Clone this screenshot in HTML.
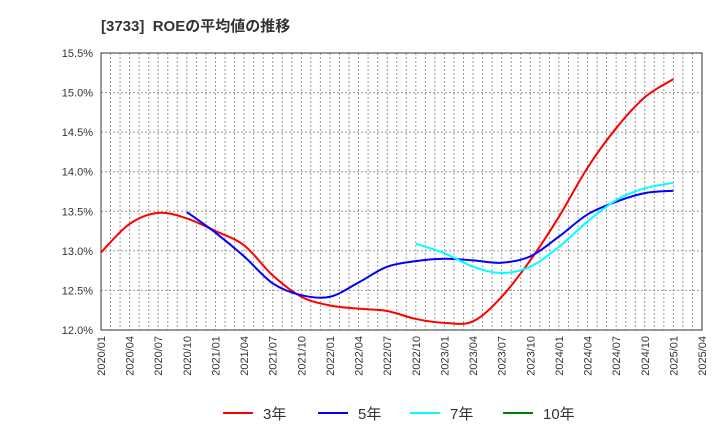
<!DOCTYPE html>
<html><head><meta charset="utf-8"><style>
body{margin:0;background:#fff;}
svg{font-family:"Liberation Sans","Noto Sans CJK JP",sans-serif;}
</style></head><body>
<svg width="720" height="440" id="c">
<text x="101" y="31" font-size="15" font-weight="bold" fill="#333">[3733]&#160; ROEの平均値の推移</text>
<g id="grid"></g><g id="axes"></g><g id="series"></g><g id="legend"></g>
</svg>
<script>
const xLabels=["2020/01","2020/04","2020/07","2020/10","2021/01","2021/04","2021/07","2021/10","2022/01","2022/04","2022/07","2022/10","2023/01","2023/04","2023/07","2023/10","2024/01","2024/04","2024/07","2024/10","2025/01","2025/04"];
const yTicks=[12.0,12.5,13.0,13.5,14.0,14.5,15.0,15.5];
const s3Start=0;
const s3=[12.98,13.34,13.48,13.41,13.25,13.07,12.69,12.42,12.31,12.27,12.24,12.14,12.09,12.11,12.42,12.88,13.43,14.05,14.55,14.94,15.17];
const s5Start=3;
const s5=[13.49,13.23,12.93,12.59,12.44,12.42,12.6,12.8,12.87,12.9,12.88,12.85,12.93,13.18,13.46,13.62,13.73,13.76];
const s7Start=11;
const s7=[13.09,12.97,12.8,12.72,12.8,13.05,13.37,13.64,13.79,13.86];
const x0=101,x1=702,y0=330,y1=53;
const X=q=>x0+q*(x1-x0)/21;
const Y=v=>y0-(v-12)*(y0-y1)/3.5;
const NS="http://www.w3.org/2000/svg";
function mk(t,a,p){const e=document.createElementNS(NS,t);for(const k in a)e.setAttribute(k,a[k]);p.appendChild(e);return e;}
const grid=document.getElementById('grid'),axes=document.getElementById('axes'),ser=document.getElementById('series'),leg=document.getElementById('legend');
for(let m=1;m<63;m++){const x=x0+m*(x1-x0)/63;
const l=mk('line',{x1:x,x2:x,y1:y1,y2:y0,stroke:'#999','stroke-dasharray':'2,2','stroke-width':1},grid);

}
yTicks.forEach(v=>{const y=Y(v);
const l=mk('line',{x1:x0,x2:x1,y1:y,y2:y,stroke:'#999','stroke-dasharray':'2,2','stroke-width':1},grid);


const t=mk('text',{x:93,y:y+4,'text-anchor':'end','font-size':11,fill:'#333'},axes);t.textContent=v.toFixed(1)+'%';

});
const fr=mk('rect',{x:x0,y:y1,width:x1-x0,height:y0-y1,fill:'none',stroke:'#333','stroke-width':1},axes);


xLabels.forEach((s,i)=>{const x=X(i);
const t=mk('text',{x:0,y:0,'text-anchor':'end','font-size':11,fill:'#333',transform:`translate(${x+4},336) rotate(-90)`},axes);t.textContent=s;

});
function path(vals,start){const p=vals.map((v,i)=>[X(start+i),Y(v)]);let d=`M${p[0][0]},${p[0][1]}`;
for(let i=0;i<p.length-1;i++){const a=p[i-1]||p[i],b=p[i],c=p[i+1],e=p[i+2]||c;
d+=` C${b[0]+(c[0]-a[0])/6},${b[1]+(c[1]-a[1])/6} ${c[0]-(e[0]-b[0])/6},${c[1]-(e[1]-b[1])/6} ${c[0]},${c[1]}`;}return d;}
[[s3,s3Start,'#ff0000','line-3yr'],[s5,s5Start,'#0000ff','line-5yr'],[s7,s7Start,'#00ffff','line-7yr']].forEach(([v,s,c,n])=>{
const e=mk('path',{d:path(v,s),fill:'none',stroke:c,'stroke-width':2},ser);

});
[['3年','#ff0000',223],['5年','#0000ff',318],['7年','#00ffff',410],['10年','#008000',503]].forEach(([t,c,x])=>{
const g=mk('g',{},leg);


mk('line',{x1:x,x2:x+30,y1:413,y2:413,stroke:c,'stroke-width':2},g);
const tx=mk('text',{x:x+40,y:419,'font-size':15,fill:'#333'},g);tx.textContent=t;});
</script>
</body></html>
